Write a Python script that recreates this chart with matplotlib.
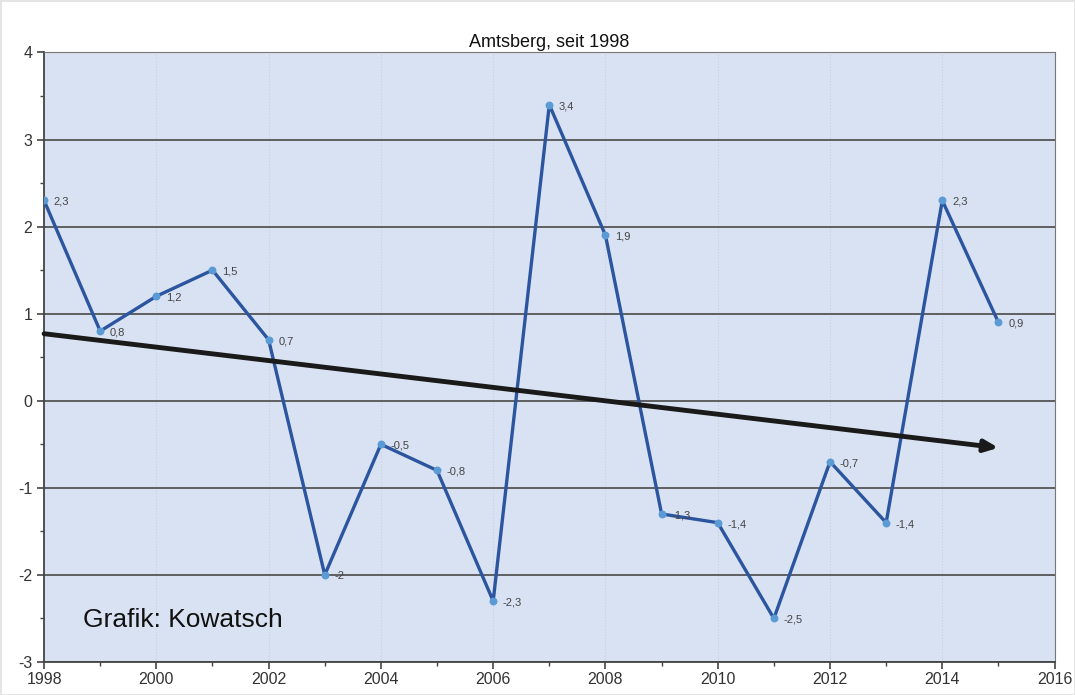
import matplotlib
matplotlib.use("Agg")
import matplotlib.pyplot as plt
from matplotlib.ticker import MultipleLocator

plt.rcParams['font.family'] = ['Liberation Sans', 'DejaVu Sans']
plt.rcParams['axes.unicode_minus'] = False

years = list(range(1998, 2016))
values = [2.3, 0.8, 1.2, 1.5, 0.7, -2, -0.5, -0.8, -2.3, 3.4, 1.9, -1.3, -1.4, -2.5, -0.7, -1.4, 2.3, 0.9]
labels = ["2,3", "0,8", "1,2", "1,5", "0,7", "-2", "-0,5", "-0,8", "-2,3", "3,4", "1,9", "-1,3", "-1,4", "-2,5", "-0,7", "-1,4", "2,3", "0,9"]
trend_x = [1998, 2015]
trend_y = [0.77, -0.54]

fig = plt.figure(figsize=(10.75, 6.95), dpi=100)
fig.patch.set_edgecolor('#e4e4e4')
fig.patch.set_linewidth(2)
ax = fig.add_axes([0.041, 0.0475, 0.940, 0.877])
ax.set_facecolor('#d9e2f2')

ax.set_xlim(1998, 2016)
ax.set_ylim(-3, 4)
ax.xaxis.set_major_locator(MultipleLocator(2))
ax.xaxis.set_minor_locator(MultipleLocator(1))
ax.yaxis.set_major_locator(MultipleLocator(1))
ax.yaxis.set_minor_locator(MultipleLocator(0.5))

ax.grid(axis='y', which='major', color='#555555', linewidth=1.3)
ax.grid(axis='x', which='major', color='#c8d0dc', linewidth=0.8, linestyle=':')
ax.set_axisbelow(True)

for s in ax.spines.values():
    s.set_color('#777777')
ax.spines['left'].set_color('#444444')
ax.spines['bottom'].set_color('#444444')
ax.spines['left'].set_linewidth(1.3)
ax.spines['bottom'].set_linewidth(1.3)

ax.tick_params(axis='both', which='major', labelsize=11.5, color='#444444', length=5, width=1.2, labelcolor='#333333')
ax.tick_params(axis='both', which='minor', color='#444444', length=3, width=1)
ax.tick_params(axis='x', pad=2)

ax.plot(years, values, color='#2c55a0', linewidth=2.4, zorder=3)
ax.scatter(years, values, s=22, color='#5b9bd5', zorder=4)
for x, y, t in zip(years, values, labels):
    ax.annotate(t, (x, y), xytext=(7, -1), textcoords='offset points',
                fontsize=8, color='#444444', va='center', zorder=5)

ax.annotate('', xy=(trend_x[1], trend_y[1]), xytext=(trend_x[0], trend_y[0]),
            arrowprops=dict(arrowstyle='-|>,head_length=0.8,head_width=0.35',
                            color='#1a1a1a', linewidth=3.5, shrinkA=0, shrinkB=0),
            zorder=6)

ax.set_title('Amtsberg, seit 1998', fontsize=13, color='#111111', pad=4)
ax.text(1998.7, -2.6, 'Grafik: Kowatsch', fontsize=19, color='#111111')

fig.savefig('out.png', dpi=100, edgecolor=fig.get_edgecolor())
